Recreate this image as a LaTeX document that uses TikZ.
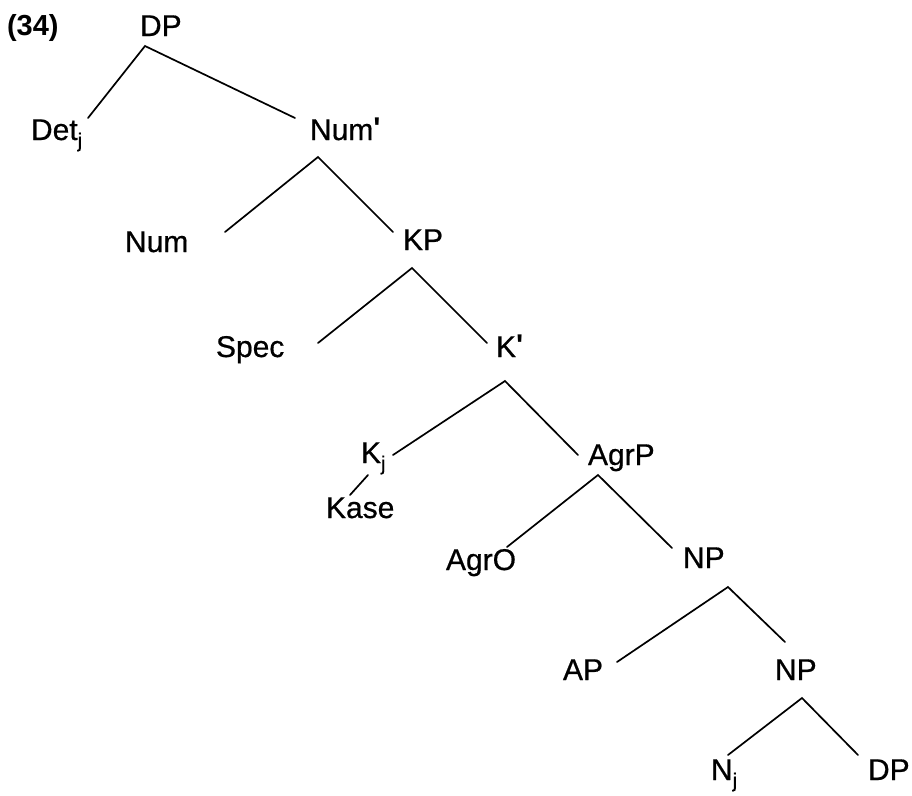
\documentclass[tikz,border=0pt]{standalone}
\usepackage{fontspec}
\setmainfont{Liberation Sans}
\newfontfamily\labfont{Liberation Sans}[FakeBold=0.6]
\newfontfamily\primefont{Liberation Sans Bold}
\newcommand\myprime{\raisebox{0.1ex}{\primefont\char"27}}
\newcommand\myj{\raisebox{-0.45ex}{\fontsize{20}{20}\selectfont j}}
\tikzset{
  lab/.style={anchor=base west, inner sep=0pt, outer sep=0pt, font=\labfont\fontsize{30}{30}\selectfont},
  branch/.style={line width=1.7pt, line cap=round}
}
\begin{document}
\begin{tikzpicture}[x=1pt,y=-1pt]
\useasboundingbox[fill=white] (0,0) rectangle (912,795);
% labels
\node[lab, font=\primefont\fontsize{29}{29}\selectfont] (ex) at (7,35) {(34)};
\node[lab] (dp)   at (140,36)  {DP};
\node[lab] (det)  at (31,140)  {Det\myj};
\node[lab] (numb) at (310,140) {Num\myprime};
\node[lab] (num)  at (125,252) {Num};
\node[lab] (kp)   at (403,250) {KP};
\node[lab] (spec) at (216,357) {Spec};
\node[lab] (kb)   at (496,357) {K\myprime};
\node[lab] (kj)   at (361,463) {K\myj};
\node[lab] (agrp) at (588,465) {AgrP};
\node[lab] (kase) at (326,518) {Kase};
\node[lab] (agro) at (446,570) {AgrO};
\node[lab] (np)   at (683,568) {NP};
\node[lab] (ap)   at (563,680) {AP};
\node[lab] (npb)  at (775,680) {NP};
\node[lab] (nj)   at (711,780) {N\myj};
\node[lab] (dpb)  at (868,780) {DP};
% branch points
\coordinate (dp-a)   at (145,46);
\coordinate (det-e)  at (88,118);
\coordinate (numb-e) at (295,118);
\coordinate (numb-a) at (318,157);
\coordinate (num-e)  at (225,232);
\coordinate (kp-e)   at (393,232);
\coordinate (kp-a)   at (412,268);
\coordinate (spec-e) at (318,343);
\coordinate (kb-e)   at (487,343);
\coordinate (kb-a)   at (505,381);
\coordinate (kj-e)   at (393,455);
\coordinate (agrp-e) at (578,455);
\coordinate (kj-a)   at (368,475);
\coordinate (kase-e) at (350,495);
\coordinate (agrp-a) at (598,475);
\coordinate (agro-e) at (507,547);
\coordinate (np-e)   at (672,548);
\coordinate (np-a)   at (728,587);
\coordinate (ap-e)   at (617,662);
\coordinate (npb-e)  at (785,642);
\coordinate (npb-a)  at (802,698);
\coordinate (nj-e)   at (728,755);
\coordinate (dpb-e)  at (858,755);
% branches
\draw[branch] (det-e) -- (dp-a) -- (numb-e);
\draw[branch] (num-e) -- (numb-a) -- (kp-e);
\draw[branch] (spec-e) -- (kp-a) -- (kb-e);
\draw[branch] (kj-e) -- (kb-a) -- (agrp-e);
\draw[branch] (kj-a) -- (kase-e);
\draw[branch] (agro-e) -- (agrp-a) -- (np-e);
\draw[branch] (ap-e) -- (np-a) -- (npb-e);
\draw[branch] (nj-e) -- (npb-a) -- (dpb-e);
\end{tikzpicture}
\end{document}
